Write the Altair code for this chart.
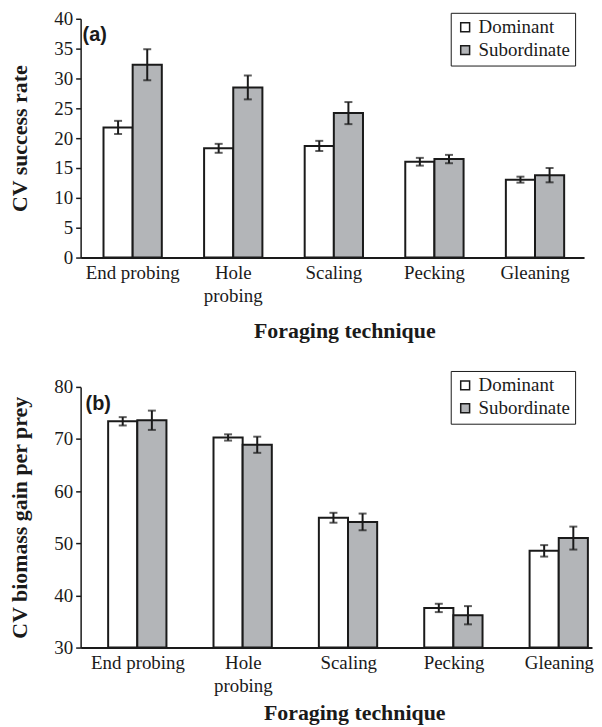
import altair as alt
import pandas as pd

categories = ["End probing", "Hole probing", "Scaling", "Pecking", "Gleaning"]
groups = ["Dominant", "Subordinate"]

# Panel (a): CV success rate
a_dominant = [21.8, 18.3, 18.7, 16.05, 13.05]
a_dominant_err = [1.1, 0.75, 0.85, 0.65, 0.5]
a_subordinate = [32.3, 28.5, 24.2, 16.5, 13.8]
a_subordinate_err = [2.6, 2.0, 1.85, 0.7, 1.2]
a_ticks = [0, 5, 10, 15, 20, 25, 30, 35, 40]

# Panel (b): CV biomass gain per prey
b_dominant = [73.4, 70.3, 54.9, 37.6, 48.55]
b_dominant_err = [0.8, 0.6, 0.95, 0.8, 1.1]
b_subordinate = [73.6, 68.9, 54.1, 36.2, 51.0]
b_subordinate_err = [1.85, 1.55, 1.6, 1.75, 2.2]
b_ticks = [30, 40, 50, 60, 70, 80]

SERIF = "Liberation Serif"
SANS = "Liberation Sans"
INK = "#1a1a1a"
FILLS = ["#ffffff", "#b3b5b8"]


def build_df(dom, dom_err, sub, sub_err):
    rows = []
    for i, c in enumerate(categories):
        rows.append({"technique": c, "group": groups[0], "value": dom[i],
                     "lo": dom[i] - dom_err[i], "hi": dom[i] + dom_err[i]})
        rows.append({"technique": c, "group": groups[1], "value": sub[i],
                     "lo": sub[i] - sub_err[i], "hi": sub[i] + sub_err[i]})
    return pd.DataFrame(rows)


def panel(df, ytitle, ydomain, yticks, width, height, pin, pout, align,
          legx, legy, label, labx, laby, titlex, titley):
    xscale = alt.Scale(paddingInner=pin, paddingOuter=pout, align=align)
    xaxis = alt.Axis(
        title="Foraging technique", labelAngle=0, ticks=False,
        labelExpr="datum.label == 'Hole probing' ? ['Hole', 'probing'] : datum.label",
        labelLineHeight=23, labelPadding=6, domainWidth=2,
        titleX=titlex, titleY=titley, titleBaseline="alphabetic", titleAlign="center",
    )
    x = alt.X("technique:N", sort=categories, scale=xscale, axis=xaxis)
    xo = alt.XOffset("group:N", sort=groups, scale=alt.Scale(paddingInner=0, paddingOuter=0))
    yscale = alt.Scale(domain=ydomain, nice=False, zero=False)
    yaxis = alt.Axis(values=yticks, title=ytitle, tickSize=5, tickWidth=1.5,
                     domainWidth=1.5, labelPadding=3, titlePadding=22)

    base = alt.Chart(df)
    bars = base.mark_bar(stroke=INK, strokeWidth=2).encode(
        x=x, xOffset=xo,
        y=alt.Y("value:Q", scale=yscale, axis=yaxis, title=ytitle),
        y2=alt.datum(ydomain[0]),
        color=alt.Color("group:N", sort=groups,
                        scale=alt.Scale(domain=groups, range=FILLS),
                        legend=alt.Legend(title=None, orient="none", legendX=legx, legendY=legy)),
    )
    rules = base.mark_rule(color=INK, strokeWidth=2).encode(
        x=x, xOffset=xo,
        y=alt.Y("lo:Q", scale=yscale, axis=yaxis, title=ytitle),
        y2="hi:Q",
    )
    cap_lo = base.mark_tick(color=INK, thickness=2, size=8, orient="horizontal").encode(
        x=x, xOffset=xo, y=alt.Y("lo:Q", scale=yscale, axis=yaxis, title=ytitle),
    )
    cap_hi = base.mark_tick(color=INK, thickness=2, size=8, orient="horizontal").encode(
        x=x, xOffset=xo, y=alt.Y("hi:Q", scale=yscale, axis=yaxis, title=ytitle),
    )
    tag = alt.Chart(pd.DataFrame({"label": [label]})).mark_text(
        font=SANS, fontWeight="bold", fontSize=20, align="left", baseline="middle", color=INK
    ).encode(text="label:N", x=alt.value(labx), y=alt.value(laby))
    return alt.layer(bars, rules, cap_lo, cap_hi, tag).properties(width=width, height=height)


df_a = build_df(a_dominant, a_dominant_err, a_subordinate, a_subordinate_err)
df_b = build_df(b_dominant, b_dominant_err, b_subordinate, b_subordinate_err)

pa = panel(df_a, "CV success rate", [0, 40], a_ticks, 506, 240,
           0.4204, 0.2126, 0.535, 372, -6, "(a)", 2, 16, 265, 80)
pb = panel(df_b, "CV biomass gain per prey", [30, 80], b_ticks, 514, 262,
           0.4334, 0.1435, 0.91, 372, -16, "(b)", 5, 17, 275, 72)

chart = (
    alt.vconcat(pa, pb, spacing=29)
    .resolve_scale(x="independent", y="independent", color="independent")
    .resolve_legend(color="independent")
    .properties(padding={"left": 0, "top": 0, "right": 0, "bottom": 0})
    .configure_view(stroke=None)
    .configure_axis(
        labelFont=SERIF, titleFont=SERIF, labelFontSize=19, titleFontSize=22,
        titleFontWeight="bold", labelColor=INK, titleColor=INK,
        domainColor=INK, tickColor=INK, grid=False,
    )
    .configure_legend(
        symbolType="square", symbolSize=80, symbolStrokeColor=INK, symbolStrokeWidth=1.5,
        labelFont=SERIF, labelFontSize=19, labelColor=INK, strokeColor=INK,
        fillColor="white", padding=5, rowPadding=3, labelOffset=4,
    )
)

chart.save("out.html", embed_options={"renderer": "svg", "actions": False})
